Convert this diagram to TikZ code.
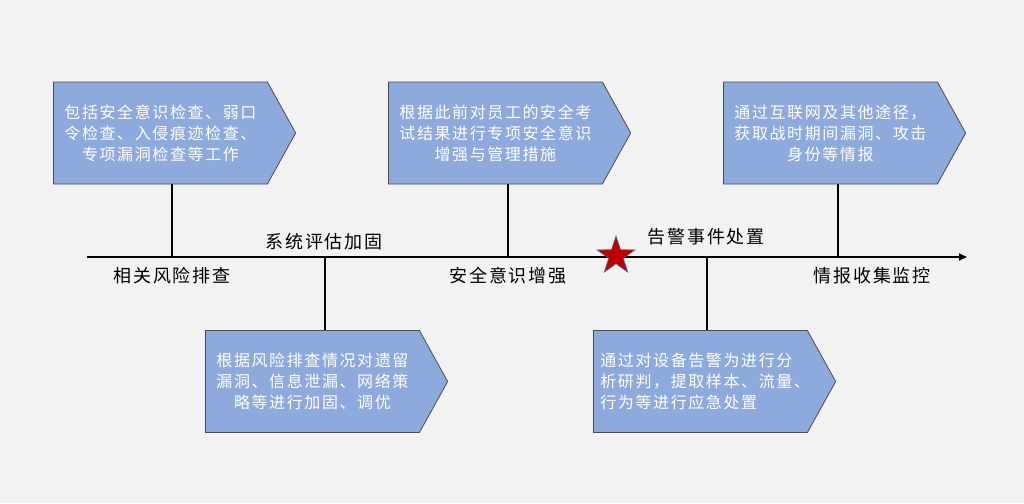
\documentclass[tikz,border=0pt]{standalone}
\usepackage{fontspec}
\setmainfont{Noto Sans CJK SC}
\newfontfamily\boxfont[LetterSpace=10]{Noto Sans CJK SC}
\newfontfamily\labelfont[LetterSpace=11]{Noto Sans CJK SC}
\usetikzlibrary{shapes.symbols,shapes.geometric,arrows.meta}
\definecolor{boxblue}{HTML}{8EA9DB}
\definecolor{bggray}{HTML}{F2F2F2}
\definecolor{starred}{HTML}{C00000}
\definecolor{starline}{HTML}{41719C}

\begin{document}
\begin{tikzpicture}[x=1pt,y=-1pt,
  infobox/.style={signal,signal to=east,signal pointer angle=122,fill=boxblue,draw=black!70,line width=0.8pt,text=white,text width=200pt,inner xsep=7pt,inner ysep=0pt,minimum height=102pt,align=center,anchor=west,font=\boxfont\fontsize{16pt}{21pt}\selectfont},
  stagelabel/.style={font=\labelfont\fontsize{18pt}{22pt}\selectfont,inner sep=0pt},
  stem/.style={line width=1.6pt}]

\fill[bggray] (0,0) rectangle (1024,503);
\useasboundingbox (0,0) rectangle (1024,503);

% time axis
\coordinate (start) at (87,257);
\coordinate (end) at (967,257);
\draw[line width=1.6pt,-{Triangle[length=8pt,width=7pt]}] (start) -- (end);

% stem feet on the axis
\coordinate (c1) at (172,257);
\coordinate (c2) at (325,257);
\coordinate (c3) at (508,257);
\coordinate (c4) at (707,257);
\coordinate (c5) at (838,257);

% boxes
\node[infobox] (check) at (53,133) {包括安全意识检查、弱口\\令检查、入侵痕迹检查、\\专项漏洞检查等工作};
\node[infobox] (harden) at (205,381.5) {根据风险排查情况对遗留\\漏洞、信息泄漏、网络策\\略等进行加固、调优};
\node[infobox] (aware) at (388,133) {根据此前对员工的安全考\\试结果进行专项安全意识\\增强与管理措施};
\node[infobox,align=left] (alarm) at (593,381.5) {通过对设备告警为进行分\\析研判，提取样本、流量、\\行为等进行应急处置};
\node[infobox] (intel) at (723,133) {通过互联网及其他途径，\\获取战时期间漏洞、攻击\\身份等情报};

\draw[stem] (c1) -- (c1 |- check.south);
\draw[stem] (c2) -- (c2 |- harden.north);
\draw[stem] (c3) -- (c3 |- aware.south);
\draw[stem] (c4) -- (c4 |- alarm.north);
\draw[stem] (c5) -- (c5 |- intel.south);

% star
\node[star,star points=5,star point ratio=2.6,minimum size=40pt,inner sep=0pt,fill=starred,draw=starline,line width=0.6pt] (mark) at (616,256) {};

% stage labels
\node[stagelabel] (l1) at (172,276) {相关风险排查};
\node[stagelabel] (l2) at (324,242) {系统评估加固};
\node[stagelabel] (l3) at (508,276) {安全意识增强};
\node[stagelabel] (l4) at (706,237) {告警事件处置};
\node[stagelabel] (l5) at (872,276) {情报收集监控};
\end{tikzpicture}
\end{document}
